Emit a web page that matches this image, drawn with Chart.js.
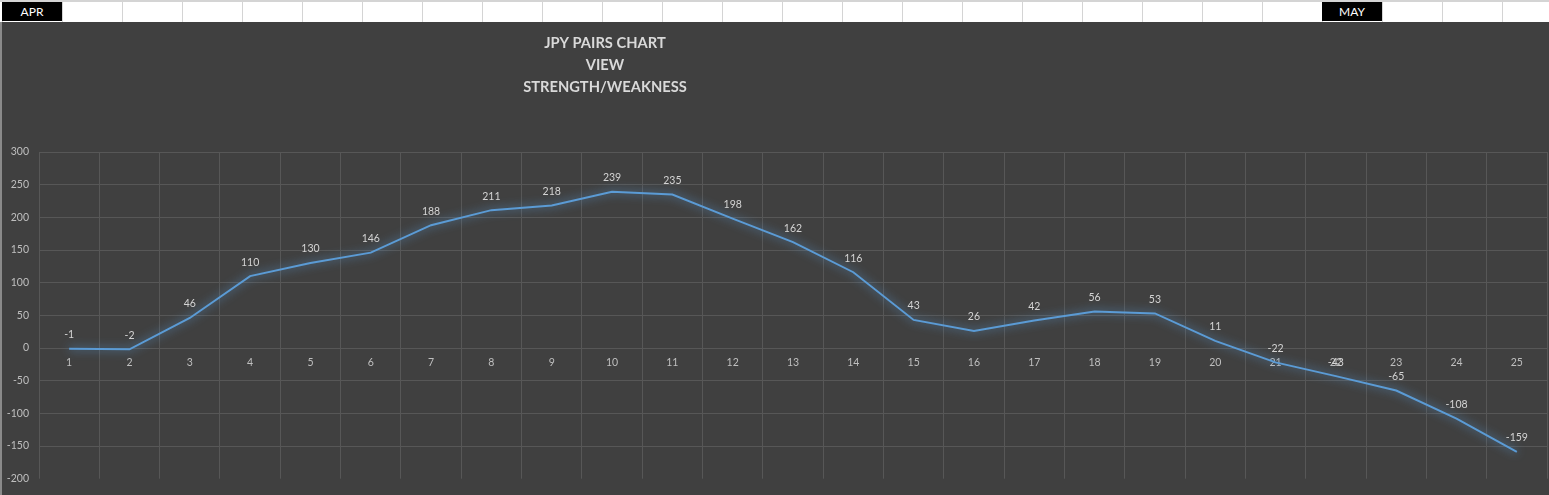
<!DOCTYPE html>
<html>
<head>
<meta charset="utf-8">
<script src="https://cdn.jsdelivr.net/npm/chart.js@4"></script>
<style>
  body { margin: 0; background: #fff; width: 1549px; height: 495px; overflow: hidden; position: relative; font-family: Lato, "Open Sans", sans-serif; }
  #row { position: absolute; left: 0; top: 0; width: 1549px; height: 22px; background: #fff;
         background-image: repeating-linear-gradient(to right, #d4d4d4 0, #d4d4d4 1px, transparent 1px, transparent 60px);
         background-position: 2px 0; border-top: 2px solid #d4d4d4; box-sizing: border-box; }
  .mes { position: absolute; top: 2px; height: 19px; width: 60px; background: #000; color: #fff;
         font-size: 12px; line-height: 19px; text-align: center; }
  #wrap { position: absolute; left: 2px; top: 22px; width: 1547px; height: 473px; background: #404040; }
  #edge { position: absolute; left: 0; top: 22px; width: 2px; height: 473px; background: #8a8a8a; }
</style>
</head>
<body>
<div id="row"></div>
<div class="mes" style="left:2px">APR</div>
<div class="mes" style="left:1322px">MAY</div>
<div id="edge"></div>
<div id="wrap"><canvas id="jpyChart" width="1547" height="473"></canvas></div>
<script>
// kategorije (dani) i vrijednosti
const dani = ['1','2','3','4','5','6','7','8','9','10','11','12','13','14','15','16','17','18','19','20','21','22','23','24','25'];
const snaga = [-1, -2, 46, 110, 130, 146, 188, 211, 218, 239, 235, 198, 162, 116, 43, 26, 42, 56, 53, 11, -22, -43, -65, -108, -159];
const naslov = ['JPY PAIRS CHART', 'VIEW', 'STRENGTH/WEAKNESS'];

const boja = '#5b9bd5';

// sjaj oko linije
const sjaj = {
    id: 'sjaj',
    beforeDatasetDraw(chart) {
        const c = chart.ctx;
        c.save();
        c.shadowColor = 'rgba(91,155,213,1)';
        c.shadowBlur = 10;
    },
    afterDatasetDraw(chart) {
        chart.ctx.restore();
    }
};

// vrijednosti iznad tacaka + naslov
const oznake = {
    id: 'oznake',
    afterDatasetsDraw(chart) {
        const c = chart.ctx;
        const meta = chart.getDatasetMeta(0);
        c.save();
        c.fillStyle = '#d4d4d4';
        c.font = '10.5px Lato';
        c.textAlign = 'center';
        c.textBaseline = 'middle';
        meta.data.forEach((p, i) => {
            c.fillText(String(snaga[i]), p.x, p.y - 14);
        });
        c.fillStyle = '#d9d9d9';
        c.font = 'bold 14.7px Lato';
        naslov.forEach((t, i) => {
            c.fillText(t, 603, 21.5 + i * 21.7);
        });
        c.restore();
    }
};

const ctx = document.getElementById('jpyChart').getContext('2d');
new Chart(ctx, {
    type: 'line',
    data: {
        labels: dani,
        datasets: [{
            data: snaga,
            borderColor: boja,
            borderWidth: 2,
            pointRadius: 0,
            tension: 0,
            fill: false
        }]
    },
    options: {
        responsive: false,
        animation: false,
        layout: { padding: { top: 130, bottom: 13, left: 0, right: 2 } },
        plugins: { legend: { display: false }, tooltip: { enabled: false } },
        scales: {
            x: {
                offset: true,
                position: { y: 0 },
                grid: { color: '#575757', offset: true, drawTicks: false },
                border: { display: false },
                ticks: { color: '#bfbfbf', font: { family: 'Lato', size: 10.5 }, padding: 8, maxRotation: 0, autoSkip: false },
                afterFit(scale) { scale.height = 0; }
            },
            y: {
                min: -200,
                max: 300,
                grid: {
                    color: (c) => (c.tick && c.tick.value === -200 ? 'rgba(0,0,0,0)' : '#575757'),
                    drawTicks: false
                },
                border: { display: false },
                ticks: { stepSize: 50, color: '#bfbfbf', font: { family: 'Lato', size: 10.5 }, padding: 10 },
                afterFit(scale) { scale.width = 37; }
            }
        }
    },
    plugins: [sjaj, oznake]
});
</script>
</body>
</html>
